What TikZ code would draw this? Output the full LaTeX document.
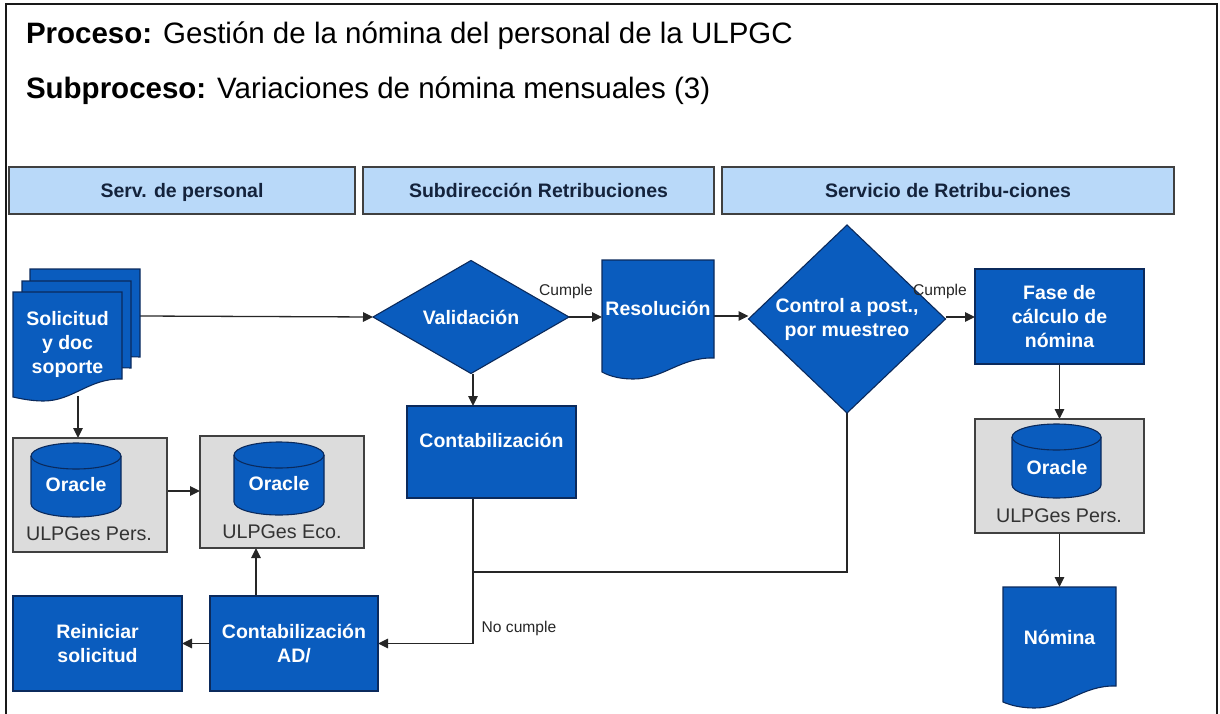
\documentclass[tikz,border=0pt]{standalone}
\usepackage{fontspec}
\setmainfont{Liberation Sans}
\usetikzlibrary{shapes.geometric,arrows.meta,calc}
\pgfdeclarelayer{back}
\pgfsetlayers{back,main}
\definecolor{flowblue}{HTML}{0A5CBE}
\definecolor{headblue}{HTML}{B9D9F9}
\definecolor{greybox}{HTML}{DCDCDC}
\definecolor{edgeblue}{HTML}{0B2A5C}
\definecolor{headtext}{HTML}{14233C}
\newcommand{\labelfont}{\fontsize{19.5}{24}\selectfont\bfseries}
\tikzset{
  x=1pt,y=-1pt,
  every node/.style={inner sep=0pt,outer sep=0pt},
  band/.style={draw=black!75,line width=1.1pt,fill=headblue,text=headtext,font=\fontsize{19.5}{22}\selectfont\bfseries,anchor=north west,text height=16pt,text depth=2pt},
  flowbox/.style={draw=edgeblue,line width=1.1pt,fill=flowblue,text=white,align=center,font=\labelfont,anchor=north west},
  docpaint/.style={draw=edgeblue,line width=1.1pt,fill=flowblue},
  doctext/.style={text=white,align=center,font=\labelfont,anchor=north west},
  decision/.style={diamond,aspect=1.1,draw=edgeblue,line width=1.1pt,fill=flowblue,text=white,align=center,font=\labelfont},
  hostbox/.style={draw=black!75,line width=1.1pt,fill=greybox,anchor=north west},
  dbtext/.style={text=white,font=\labelfont},
  hosttext/.style={text=black!80,font=\fontsize{19.7}{22}\selectfont},
  arr/.style={draw=black!85,line width=1.3pt,-{Triangle[length=10pt,width=9.5pt]}},
  plainline/.style={draw=black!85,line width=1.3pt},
  small/.style={font=\fontsize{15.6}{18}\selectfont,text=black!85},
  heading/.style={font=\fontsize{29.5}{34}\selectfont,text=black,anchor=base west}
}
% L T R B depth leftrise
\newcommand{\docpath}[6]{%
  \path[docpaint] (#1,#2) -- (#3,#2) -- (#3,#4)
    .. controls ({#3-0.30*(#3-#1)},{#4-1}) and ({#3-0.45*(#3-#1)},{#4+#5}) .. ({#1+0.28*(#3-#1)},{#4+#5})
    .. controls ({#1+0.18*(#3-#1)},{#4+#5}) and ({#1+0.08*(#3-#1)},{#4+#5-2}) .. (#1,{#4+#5-#6}) -- cycle;}
% L T R B ry
\newcommand{\dbpath}[5]{%
  \path[docpaint] (#1,{#2+#5}) -- (#1,{#4-#5})
    .. controls (#1,{#4-0.45*#5}) and ({#1+0.22*(#3-#1)},#4) .. ({(#1+#3)/2},#4)
    .. controls ({#3-0.22*(#3-#1)},#4) and (#3,{#4-0.45*#5}) .. (#3,{#4-#5})
    -- (#3,{#2+#5})
    .. controls (#3,{#2+0.45*#5}) and ({#3-0.22*(#3-#1)},#2) .. ({(#1+#3)/2},#2)
    .. controls ({#1+0.22*(#3-#1)},#2) and (#1,{#2+0.45*#5}) .. (#1,{#2+#5}) -- cycle;
  \path[docpaint,fill=none] (#1,{#2+#5})
    .. controls (#1,{#2+1.55*#5}) and ({#1+0.22*(#3-#1)},{#2+2*#5}) .. ({(#1+#3)/2},{#2+2*#5})
    .. controls ({#3-0.22*(#3-#1)},{#2+2*#5}) and (#3,{#2+1.55*#5}) .. (#3,{#2+#5});}
\begin{document}
\begin{tikzpicture}
\useasboundingbox (0,0) rectangle (1220,714);
% frame
\draw[line width=2pt,black!90] (6,714) -- (6,4) -- (1217,4) -- (1217,714);
% headings
\node[heading] (proc) at (26,44) {\textbf{Proceso:} Gestión de la nómina del personal de la ULPGC};
\node[heading] (sub) at (26,99) {\textbf{Subproceso:} Variaciones de nómina mensuales (3)};
% bands
\node[band,minimum width=346pt,minimum height=47pt] (b1) at (9,167) {Serv. de personal};
\node[band,minimum width=351pt,minimum height=47pt] (b2) at (363,167) {Subdirección Retribuciones};
\node[band,minimum width=452pt,minimum height=47pt] (b3) at (722,167) {Servicio de Retribu-ciones};
% stacked documents
\docpath{30}{269}{140}{357}{0}{0}
\docpath{22}{281}{131}{368}{0}{0}
\docpath{13}{292}{122}{379}{22}{4}
\node[doctext,minimum width=109pt,minimum height=104pt] (sol) at (13,292) {Solicitud\\y doc\\soporte};
\coordinate (solback) at (140,316);
% resolution
\docpath{602}{260}{714}{358}{21}{7}
\node[doctext,minimum width=112pt,minimum height=96pt] (res) at (602,260) {Resolución};
% nomina
\docpath{1003}{587}{1116}{686}{22}{6}
\node[doctext,minimum width=113pt,minimum height=100pt] (nom) at (1003,587) {Nómina};
% decisions
\node[decision,aspect=1.73,minimum width=196pt,minimum height=113pt] (val) at (471,317) {Validación};
\node[decision,minimum width=197pt,minimum height=188pt] (ctl) at (847,319) {Control a post.,\\por muestreo};
% process boxes
\node[flowbox,minimum width=169pt,minimum height=95pt] (fase) at (975,269) {Fase de\\cálculo de\\nómina};
\node[flowbox,minimum width=169pt,minimum height=92pt,text depth=23pt] (cont) at (407,406) {Contabilización};
\node[flowbox,minimum width=168pt,minimum height=95pt] (ad) at (210,596) {Contabilización\\AD/};
\node[flowbox,minimum width=169pt,minimum height=95pt] (rei) at (13,596) {Reiniciar\\solicitud};
% host boxes
\node[hostbox,minimum width=154pt,minimum height=114pt] (h1) at (13,438) {};
\node[hostbox,minimum width=164pt,minimum height=112pt] (h2) at (200,436) {};
\node[hostbox,minimum width=169pt,minimum height=114pt] (h3) at (975,419) {};
\dbpath{31}{443}{121}{517}{13}
\dbpath{234}{442}{324}{515}{13}
\dbpath{1012}{424}{1101}{498}{13}
\node[dbtext] (d1) at (76,485) {Oracle};
\node[dbtext] (d2) at (279,484) {Oracle};
\node[dbtext] (d3) at (1057,468) {Oracle};
\node[hosttext] (t1) at (89,534) {ULPGes Pers.};
\node[hosttext] (t2) at (282,532) {ULPGes Eco.};
\node[hosttext] (t3) at (1059,516) {ULPGes Pers.};
% connector labels
\node[small] (c1) at (566,291) {Cumple};
\node[small] (c2) at (940,291) {Cumple};
\node[small] (c3) at (519,628) {No cumple};
% helper points
\coordinate (j) at (473,572);
\begin{pgfonlayer}{back}
\draw[arr] (solback) -- (val.west);
\draw[arr] ([xshift=65pt]sol.south west) -- ([xshift=65pt]sol.south west |- h1.north);
\draw[arr] ([yshift=4pt]h1.east) -- ([yshift=4pt]h1.east -| h2.west);
\draw[arr] ([xshift=46pt]ad.north west) -- ([xshift=46pt]ad.north west |- h2.south);
\draw[arr] (ad.west) -- (rei.east);
\draw[arr] (val.east) -- (val.east -| res.west);
\draw[arr] (res.east |- 0,316) -- (ctl.west |- 0,316);
\draw[arr] (ctl.east |- 0,317) -- (fase.west |- 0,317);
\draw[arr] ([xshift=2pt]val.south) -- ([xshift=2pt]val.south |- cont.north);
\draw[arr] (fase.south) -- (h3.north);
\draw[arr] (h3.south) -- (h3.south |- nom.north);
\draw[plainline] ([xshift=66pt]cont.south west) -- (j);
\draw[arr] (j) -- (j |- ad.east) -- (ad.east);
\draw[plainline] (ctl.south) -- (ctl.south |- j) -- (j);
\end{pgfonlayer}
\end{tikzpicture}
\end{document}
